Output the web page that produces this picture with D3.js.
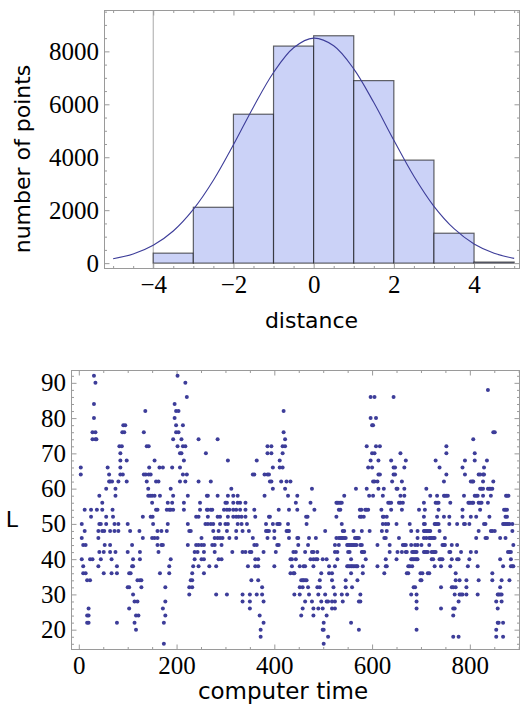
<!DOCTYPE html>
<html><head><meta charset="utf-8">
<script src="https://cdn.jsdelivr.net/npm/d3@7"></script>
<style>body{margin:0;background:#fff} svg{display:block}</style>
</head><body>
<svg id="c" width="520" height="706"></svg>
<script>
// ---------- histogram data ----------
const binEdges = [-4, -3, -2, -1, 0, 1, 2, 3, 4, 5];
const binCounts = [377, 2110, 5626, 8200, 8590, 6895, 3892, 1130, 40];
const curveX = [-5, -4.5, -4, -3.5, -3, -2.5, -2, -1.5, -1, -0.5, 0, 0.5, 1, 1.5, 2, 2.5, 3, 3.5, 4, 4.5, 5];
const curveY = [165, 345, 675, 1215, 2030, 3130, 4470, 5900, 7200, 8135, 8500, 8210, 7340, 6065, 4640, 3280, 2145, 1300, 725, 375, 180];
const histXTicks = [-4, -2, 0, 2, 4];
const histYTicks = [0, 2000, 4000, 6000, 8000];

// ---------- scatter data: L level -> computer times ----------
const levelL = [92, 90, 88, 86, 84, 82, 80, 78, 76, 74, 72, 70, 68, 66, 64, 62, 60, 58, 56, 54, 52, 50, 48, 46, 44, 42, 40, 38, 36, 34, 32, 30, 28, 26, 24, 22, 20, 18, 16];
const levelTimes = [
  [31, 202],
  [34, 218],
  [837],
  [221, 597, 605, 644],
  [31, 196],
  [136, 199, 204, 419],
  [31, 196, 597, 608],
  [91, 95, 199, 213, 600, 602],
  [28, 34, 89, 93, 133, 199, 204, 419, 848, 851],
  [28, 34, 36, 193, 210, 245, 284, 422, 807],
  [83, 88, 139, 143, 202, 213, 218, 386, 394, 417, 422, 589, 608, 616, 752],
  [85, 207, 210, 260, 386, 394, 417, 600, 605, 658, 752, 810],
  [85, 98, 155, 215, 305, 364, 411, 597, 613, 639, 669, 730, 790, 810, 835],
  [4, 59, 85, 144, 165, 172, 191, 207, 397, 411, 417, 592, 600, 644, 647, 666, 738, 785, 829],
  [4, 62, 85, 90, 133, 137, 143, 147, 213, 221, 356, 359, 380, 386, 389, 613, 616, 644, 647, 752, 790, 818, 821, 827, 829],
  [62, 64, 68, 81, 98, 139, 158, 163, 207, 218, 245, 270, 391, 394, 414, 425, 433, 602, 605, 611, 641, 661, 747, 802, 805, 807, 827, 848],
  [56, 75, 142, 188, 312, 397, 422, 477, 567, 589, 613, 624, 650, 652, 666, 711, 821, 824, 827, 837, 840, 843, 846],
  [42, 75, 142, 146, 150, 155, 166, 193, 223, 262, 264, 284, 305, 316, 325, 380, 428, 447, 543, 594, 602, 622, 658, 666, 719, 733, 747, 749, 752, 755, 788, 810, 813, 816, 827, 843, 874, 876, 879],
  [48, 150, 182, 191, 215, 248, 300, 303, 316, 325, 330, 341, 444, 474, 527, 529, 532, 535, 538, 633, 636, 639, 655, 658, 663, 706, 730, 733, 736, 760, 797, 799, 802, 805, 807, 818, 821, 824, 837],
  [12, 25, 37, 48, 69, 158, 161, 180, 185, 188, 193, 215, 248, 262, 264, 270, 273, 297, 303, 308, 316, 322, 330, 341, 359, 409, 430, 447, 482, 532, 535, 575, 578, 586, 589, 592, 619, 639, 661, 696, 708, 736, 785, 821, 870, 873, 876],
  [25, 56, 70, 131, 147, 151, 240, 245, 264, 284, 289, 305, 316, 322, 327, 333, 341, 361, 389, 391, 465, 468, 527, 575, 578, 583, 622, 624, 630, 706, 733, 747, 758, 785, 802, 813, 840, 873, 876],
  [6, 42, 45, 56, 73, 81, 100, 152, 182, 223, 259, 264, 270, 275, 289, 300, 305, 325, 333, 344, 383, 397, 406, 409, 411, 428, 466, 538, 622, 628, 633, 650, 677, 706, 708, 728, 730, 733, 736, 758, 774, 788, 790, 799, 829, 832, 868, 870, 873, 876, 878, 881, 887],
  [12, 40, 48, 52, 64, 73, 81, 105, 124, 161, 169, 180, 226, 229, 275, 286, 303, 322, 335, 348, 383, 386, 389, 400, 425, 428, 430, 504, 540, 543, 562, 579, 595, 620, 630, 680, 693, 706, 708, 711, 714, 717, 719, 738, 818, 843, 846, 851, 887],
  [6, 40, 131, 150, 155, 161, 251, 278, 284, 289, 294, 308, 322, 356, 386, 400, 430, 447, 449, 471, 485, 527, 532, 535, 538, 540, 543, 546, 565, 568, 570, 573, 625, 628, 655, 693, 706, 711, 717, 719, 722, 725, 728, 749, 813, 832, 835, 862, 873],
  [9, 14, 53, 64, 109, 161, 169, 172, 223, 240, 245, 251, 256, 273, 278, 292, 359, 364, 406, 409, 449, 469, 524, 532, 549, 551, 554, 557, 559, 562, 565, 568, 576, 579, 611, 636, 663, 666, 669, 680, 688, 693, 701, 717, 744, 747, 749, 763, 774, 889],
  [42, 51, 64, 75, 100, 125, 163, 237, 243, 256, 278, 314, 335, 341, 350, 353, 378, 403, 439, 444, 463, 477, 480, 488, 524, 529, 551, 554, 579, 581, 584, 636, 652, 661, 669, 671, 682, 685, 688, 691, 706, 708, 711, 714, 722, 725, 728, 730, 758, 760, 782, 802, 813, 878, 881, 884],
  [6, 23, 28, 45, 67, 111, 125, 188, 237, 251, 256, 286, 292, 361, 367, 433, 436, 444, 474, 480, 485, 488, 499, 507, 529, 557, 587, 628, 650, 680, 682, 685, 688, 691, 693, 722, 725, 738, 741, 744, 763, 774, 777, 799, 862, 884],
  [9, 40, 78, 109, 111, 185, 234, 245, 267, 281, 346, 361, 367, 400, 436, 452, 460, 463, 480, 512, 524, 549, 551, 554, 557, 559, 562, 565, 568, 570, 581, 611, 628, 630, 674, 677, 682, 728, 741, 760, 796, 816, 868, 884, 887, 889],
  [9, 14, 51, 67, 78, 103, 106, 166, 185, 232, 256, 433, 439, 441, 496, 512, 518, 557, 581, 625, 671, 674, 699, 703, 714, 717, 771, 846],
  [17, 23, 120, 125, 128, 229, 232, 353, 367, 455, 458, 460, 463, 466, 493, 518, 546, 570, 699, 701, 771, 779, 793, 818, 846, 865, 881],
  [100, 103, 128, 177, 226, 232, 375, 452, 458, 469, 488, 493, 521, 546, 559, 685, 688, 741, 763, 766, 771, 793, 862],
  [111, 226, 281, 303, 335, 350, 364, 375, 441, 452, 471, 490, 504, 524, 538, 549, 576, 680, 691, 769, 779, 782, 785, 793, 816, 857, 859, 862, 865],
  [114, 120, 177, 335, 350, 378, 463, 477, 496, 507, 510, 518, 524, 540, 573, 576, 691, 777, 854, 865],
  [20, 103, 172, 350, 458, 480, 490, 499, 518, 524, 691, 741, 766, 769, 857],
  [17, 20, 117, 122, 177, 370, 455, 480, 507, 766],
  [17, 20, 78, 114, 174, 378, 501, 557, 857, 859, 868],
  [117, 372, 499, 501, 573, 691, 854],
  [372, 510, 766, 777, 854, 868],
  [174, 501]
];
const scatXTicks = [0, 200, 400, 600, 800];
const scatYTicks = [20, 30, 40, 50, 60, 70, 80, 90];

// ---------- styles ----------
const frameColor = "#9a9a9a";
const pointColor = "rgb(61,61,153)";
const fillColor = "rgb(203,210,247)";
const tickFont = "'Liberation Serif', 'Times New Roman', serif";
const titleFont = "'DejaVu Sans', sans-serif";
const fmt = d3.format("d");

const svg = d3.select("#c");

function frame(g, x, y, opts) {
  const [x0, x1] = x.range();
  const [y0, y1] = y.range(); // y0 bottom, y1 top
  const styleAxis = sel => {
    sel.select(".domain").remove();
    sel.selectAll("line").attr("stroke", frameColor).attr("stroke-width", 1);
    sel.selectAll("text").attr("fill", "#000").style("font-family", tickFont).style("font-size", "25px");
  };
  g.append("g").attr("transform", `translate(0,${y0})`)
    .call(d3.axisBottom(x).tickValues(opts.xMinor).tickSize(-2.5).tickFormat("")).call(styleAxis);
  g.append("g").attr("transform", `translate(0,${y0})`)
    .call(d3.axisBottom(x).tickValues(opts.xTicks).tickSize(-5).tickPadding(7).tickFormat(fmt)).call(styleAxis);
  g.append("g").attr("transform", `translate(0,${y1})`)
    .call(d3.axisTop(x).tickValues(opts.xMinor).tickSize(-2.5).tickFormat("")).call(styleAxis);
  g.append("g").attr("transform", `translate(0,${y1})`)
    .call(d3.axisTop(x).tickValues(opts.xTicks).tickSize(-5).tickFormat("")).call(styleAxis);
  g.append("g").attr("transform", `translate(${x0},0)`)
    .call(d3.axisLeft(y).tickValues(opts.yMinor).tickSize(-2.5).tickFormat("")).call(styleAxis);
  g.append("g").attr("transform", `translate(${x0},0)`)
    .call(d3.axisLeft(y).tickValues(opts.yTicks).tickSize(-5).tickPadding(5.5).tickFormat(fmt)).call(styleAxis);
  g.append("g").attr("transform", `translate(${x1},0)`)
    .call(d3.axisRight(y).tickValues(opts.yMinor).tickSize(-2.5).tickFormat("")).call(styleAxis);
  g.append("g").attr("transform", `translate(${x1},0)`)
    .call(d3.axisRight(y).tickValues(opts.yTicks).tickSize(-5).tickFormat("")).call(styleAxis);
  g.append("rect").attr("x", x0).attr("y", y1).attr("width", x1 - x0).attr("height", y0 - y1)
    .attr("fill", "none").attr("stroke", frameColor).attr("stroke-width", 1);
}

// ================= HISTOGRAM =================
const hx = d3.scaleLinear().domain([-5.215, 5.133]).range([104.5, 519.5]);
const hy = d3.scaleLinear().domain([-203, 9544]).range([268.5, 10.5]);
const hg = svg.append("g");

hg.append("line").attr("x1", hx(-4)).attr("x2", hx(-4)).attr("y1", hy.range()[1]).attr("y2", hy.range()[0])
  .attr("stroke", "#a8a8a8").attr("stroke-width", 1);

const bins = binCounts.map((c, i) => ({ x0: binEdges[i], x1: binEdges[i + 1], c }));
hg.selectAll("rect.bar").data(bins).join("rect").attr("class", "bar")
  .attr("x", d => hx(d.x0)).attr("width", d => hx(d.x1) - hx(d.x0))
  .attr("y", d => hy(d.c)).attr("height", d => hy(0) - hy(d.c))
  .attr("fill", fillColor).attr("stroke", "rgba(0,0,0,0.6)").attr("stroke-width", 1.2);

const curvePts = curveX.map((x, i) => [x, curveY[i]]);
hg.append("path").datum(curvePts)
  .attr("d", d3.line().x(d => hx(d[0])).y(d => hy(d[1])).curve(d3.curveCatmullRom.alpha(0.5)))
  .attr("fill", "none").attr("stroke", pointColor).attr("stroke-width", 1.1);

frame(hg, hx, hy, {
  xTicks: histXTicks, xMinor: d3.range(-5, 5.01, 0.5).filter(v => !histXTicks.includes(v)),
  yTicks: histYTicks, yMinor: d3.range(0, 9501, 500).filter(v => !histYTicks.includes(v))
});

svg.append("text").attr("transform", "translate(30,159) rotate(-90)")
  .attr("text-anchor", "middle").style("font-family", titleFont).style("font-size", "22px")
  .text("number of points");
svg.append("text").attr("x", 311.5).attr("y", 328).attr("text-anchor", "middle")
  .style("font-family", titleFont).style("font-size", "22px").text("distance");

// ================= SCATTER =================
const sx = d3.scaleLinear().domain([-14.96, 901.6]).range([71.5, 519.5]);
const sy = d3.scaleLinear().domain([14.38, 93.5]).range([649.5, 370.5]);
const sg = svg.append("g");

frame(sg, sx, sy, {
  xTicks: scatXTicks, xMinor: d3.range(0, 901, 50).filter(v => !scatXTicks.includes(v)),
  yTicks: scatYTicks, yMinor: d3.range(16, 93, 2).filter(v => !scatYTicks.includes(v))
});

const pts = [];
levelL.forEach((L, i) => levelTimes[i].forEach(t => pts.push({ t, L })));
sg.selectAll("circle").data(pts).join("circle")
  .attr("cx", d => sx(d.t)).attr("cy", d => sy(d.L)).attr("r", 2)
  .attr("fill", pointColor);

svg.append("text").attr("x", 12).attr("y", 527).attr("text-anchor", "middle")
  .style("font-family", titleFont).style("font-size", "22px").text("L");
svg.append("text").attr("x", 283).attr("y", 699).attr("text-anchor", "middle")
  .style("font-family", titleFont).style("font-size", "23px").text("computer time");
</script>
</body></html>
